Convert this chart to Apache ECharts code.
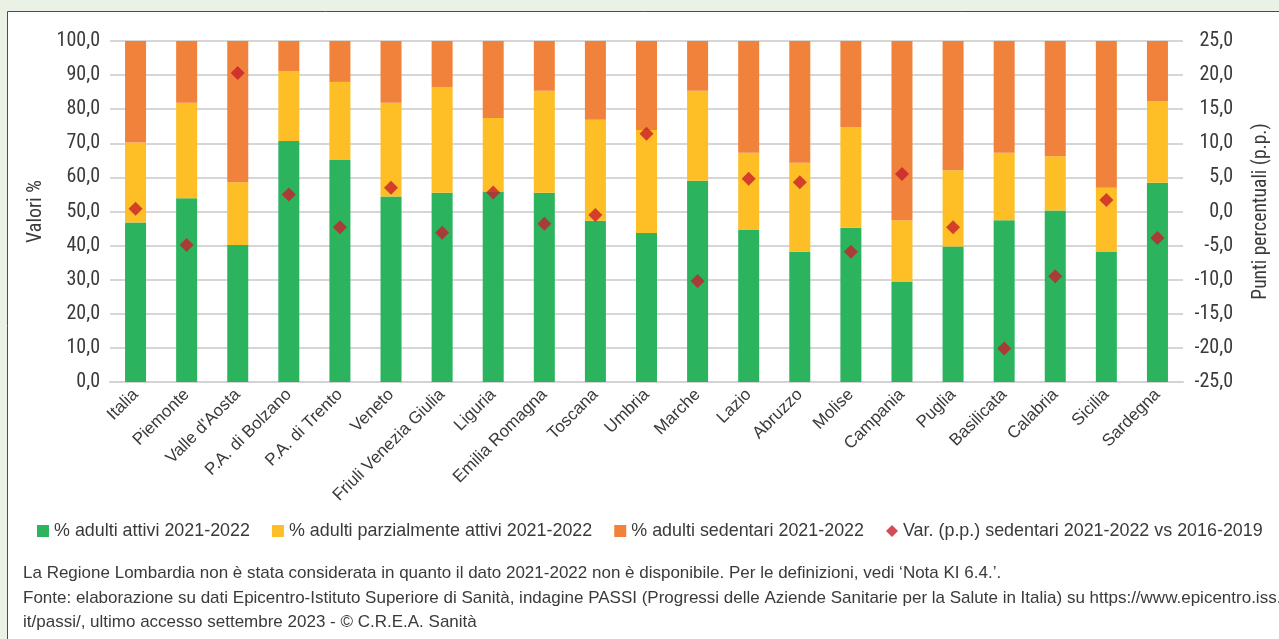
<!DOCTYPE html>
<html>
<head>
<meta charset="utf-8">
<script src="https://cdn.jsdelivr.net/npm/echarts@6/dist/echarts.min.js"></script>
<style>
html,body{margin:0;padding:0;background:#eaf2e6;}
#chart{width:1279px;height:639px;}
</style>
</head>
<body>
<div id="chart"></div>
<script>
const categories = ["Italia","Piemonte","Valle d'Aosta","P.A. di Bolzano","P.A. di Trento","Veneto","Friuli Venezia Giulia","Liguria","Emilia Romagna","Toscana","Umbria","Marche","Lazio","Abruzzo","Molise","Campania","Puglia","Basilicata","Calabria","Sicilia","Sardegna"];
const attivi = [46.8,53.9,40.2,70.7,65.1,54.4,55.5,55.9,55.5,47.3,43.7,59.0,44.6,38.2,45.2,29.5,39.7,47.4,50.3,38.3,58.4];
const parzAttivi = [23.4,28.0,18.4,20.5,22.9,27.5,31.0,21.5,29.9,29.6,30.2,26.4,22.6,26.1,29.6,17.9,22.4,19.8,15.9,18.7,24.0];
const sedentari = [29.8,18.1,41.4,8.8,12.0,18.1,13.5,22.6,14.6,23.1,26.1,14.6,32.8,35.7,25.2,52.6,37.9,32.8,33.8,43.0,17.6];
const varSedentari = [0.4,-4.9,20.3,2.5,-2.3,3.5,-3.1,2.8,-1.8,-0.5,11.4,-10.2,4.8,4.3,-5.9,5.5,-2.3,-20.1,-9.5,1.7,-3.9];
const seriesNames = ["% adulti attivi 2021-2022","% adulti parzialmente attivi 2021-2022","% adulti sedentari 2021-2022","Var. (p.p.) sedentari 2021-2022 vs 2016-2019"];
const noteLines = [
  "La Regione Lombardia non è stata considerata in quanto il dato 2021-2022 non è disponibile. Per le definizioni, vedi \u2018Nota KI 6.4.\u2019.",
  "Fonte: elaborazione su dati Epicentro-Istituto Superiore di Sanità, indagine PASSI (Progressi delle Aziende Sanitarie per la Salute in Italia) su https://www.epicentro.iss.",
  "it/passi/, ultimo accesso settembre 2023 - © C.R.E.A. Sanità"
];

const NARROW = "'Roboto Condensed', 'Liberation Sans Narrow', 'Liberation Sans', sans-serif";
const FONT = "'Liberation Sans', Arial, sans-serif";
const TXT = '#3a3a3a';
const fmt = v => v.toFixed(1).replace('.', ',');

const chart = echarts.init(document.getElementById('chart'));
chart.setOption({
  backgroundColor: '#eaf2e6',
  textStyle: {fontFamily: FONT, color: TXT},
  animation: false,
  graphic: [
    {type:'rect', z:-10, shape:{x:7.5, y:11.5, width:1300, height:700}, style:{fill:'#ffffff', stroke:'#4d4d4d', lineWidth:1}},
    {type:'text', left:23, top:565, style:{text:noteLines[0], font:"17px " + FONT, fill:TXT}},
    {type:'text', left:23, top:590, style:{text:noteLines[1], font:"17px " + FONT, fill:TXT}},
    {type:'text', left:23, top:614, style:{text:noteLines[2], font:"17px " + FONT, fill:TXT}}
  ],
  grid: {left:110, right:91, top:41, bottom:257},
  legend: {
    left: 32, top: 517, itemGap: 22, itemWidth: 12, itemHeight: 12,
    textStyle: {fontFamily: FONT, fontSize: 17.9, color: TXT},
    data: [
      {name: seriesNames[0], icon: 'rect'},
      {name: seriesNames[1], icon: 'rect'},
      {name: seriesNames[2], icon: 'rect'},
      {name: seriesNames[3], icon: 'diamond'}
    ]
  },
  xAxis: {
    type: 'category', data: categories,
    axisLine: {lineStyle: {color: '#d3d3d3', width: 2}},
    axisTick: {show: false},
    axisLabel: {rotate: 45, fontSize: 17, fontFamily: FONT, color: TXT, margin: 10, interval: 0}
  },
  yAxis: [
    {
      type: 'value', min: 0, max: 100, interval: 10,
      name: 'Valori %', nameLocation: 'middle', nameGap: 62, nameRotate: 90,
      nameTextStyle: {fontSize: 20, fontFamily: NARROW, color: TXT},
      axisLabel: {formatter: fmt, fontSize: 20, fontFamily: NARROW, color: TXT, margin: 10},
      splitLine: {lineStyle: {color: '#d6d6d6', width: 2}},
      axisLine: {show: false}, axisTick: {show: false}
    },
    {
      type: 'value', min: -25, max: 25, interval: 5, position: 'right',
      name: 'Punti percentuali (p.p.)', nameLocation: 'middle', nameGap: 68, nameRotate: 90,
      nameTextStyle: {fontSize: 19.5, fontFamily: NARROW, color: TXT},
      axisLabel: {formatter: fmt, fontSize: 20, fontFamily: NARROW, color: TXT, margin: 50, align: 'right'},
      splitLine: {show: false},
      axisLine: {show: false}, axisTick: {show: false}
    }
  ],
  series: [
    {name: seriesNames[0], type: 'bar', stack: 'tot', data: attivi, barWidth: 21, itemStyle: {color: '#2bb35e'}},
    {name: seriesNames[1], type: 'bar', stack: 'tot', data: parzAttivi, barWidth: 21, itemStyle: {color: '#fdbe26'}},
    {name: seriesNames[2], type: 'bar', stack: 'tot', data: sedentari, barWidth: 21, itemStyle: {color: '#f1823c'}},
    {name: seriesNames[3], type: 'scatter', yAxisIndex: 1, data: varSedentari, symbol: 'diamond', symbolSize: [14, 14], itemStyle: {color: '#c81f2a'}, z: 5}
  ]
});
</script>
</body>
</html>
